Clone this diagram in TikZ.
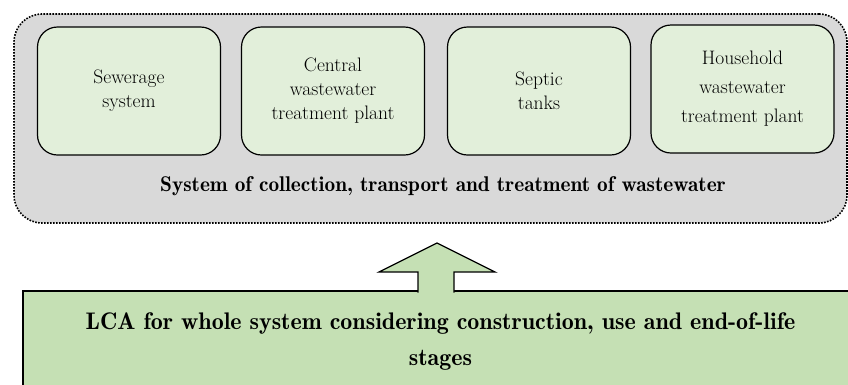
\documentclass[tikz,border=0pt]{standalone}
\usepackage{fontspec}
\setmainfont{Latin Modern Roman}[BoldFont=Latin Modern Roman Demi]
\usetikzlibrary{arrows,arrows.meta,positioning,shapes,backgrounds,fit}
\definecolor{sysgray}{HTML}{D9D9D9}
\definecolor{unitgreen}{HTML}{E2EFDA}
\definecolor{lcagreen}{HTML}{C5E0B4}

\begin{document}
\begin{tikzpicture}[x=1pt,y=-1pt]
	        \tikzstyle{system}=[draw,line width=1.6pt,dash pattern=on 1.6pt off 1.4pt,fill=sysgray,rounded corners=28pt,minimum width=833pt,minimum height=209pt]
	    	\tikzstyle{unit}=[draw,line width=1.2pt,fill=unitgreen,rounded corners=20pt,minimum width=183pt,minimum height=128pt,align=center,inner sep=0pt,font=\fontsize{19.5}{24}\selectfont]
	    	\tikzstyle{lca}=[draw,line width=1.5pt,fill=lcagreen,minimum width=847pt,minimum height=129pt]
	    	\tikzstyle{heading}=[align=center,inner sep=0pt,font=\bfseries\fontsize{21.3}{26}\selectfont]
	    	\tikzstyle{bigarrow}=[line width=1.3pt,fill=lcagreen,line join=miter]

	    	\useasboundingbox (0,0) rectangle (848,384);

	    	\node[system] (sys) at (430.5,118.5) {};
	    	\node[unit] (sewer) at (129,91) {Sewerage\\system};
	    	\node[unit] (central) at (333,91) {Central\\wastewater\\treatment plant};
	    	\node[unit] (septic) at (539,91) {Septic\\tanks};
	    	\node[unit,font=\fontsize{19.5}{29}\selectfont] (house) at (742.5,89) {Household\\wastewater\\treatment plant};
	    	\node[heading] (syslabel) at (443,186) {System of collection, transport and treatment of wastewater};

	    	\node[lca] (lca) at (446.5,355.5) {};
	    	\node[heading,font=\bfseries\fontsize{24}{36}\selectfont] (lcalabel) at (440.5,342) {LCA for whole system considering construction, use and end-of-life\\stages};

	    	\draw[bigarrow] (418,292.5) -- (418,272) -- (379,272) -- (437,243) -- (495,272) -- (454,272) -- (454,292.5);
	    \end{tikzpicture}
\end{document}
